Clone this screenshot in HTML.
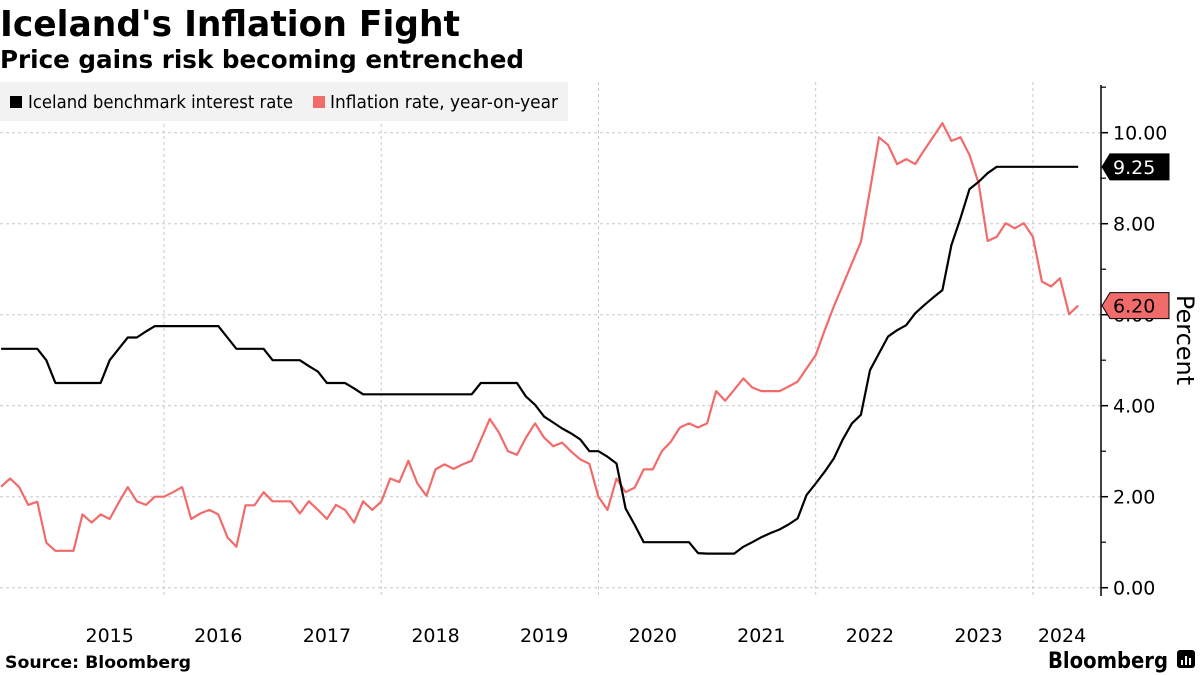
<!DOCTYPE html>
<html><head><meta charset="utf-8"><style>
html,body{margin:0;padding:0;background:#fff;}
svg{display:block;}
text{font-family:"DejaVu Sans","Liberation Sans",sans-serif;}
</style></head><body>
<svg id="chart" width="1200" height="675" viewBox="0 0 1200 675" xmlns="http://www.w3.org/2000/svg">
<text x="0" y="36" font-size="36" font-weight="bold" textLength="460" lengthAdjust="spacingAndGlyphs">Iceland's Inflation Fight</text>
<text x="0" y="68" font-size="25" font-weight="bold" textLength="524" lengthAdjust="spacingAndGlyphs">Price gains risk becoming entrenched</text>
<g id="grid"></g>
<g>
<rect x="0" y="82" width="568" height="39" fill="#f2f2f2"/>
<rect x="10" y="96" width="12" height="12" fill="#000"/>
<text x="28" y="108" font-size="18" textLength="265" lengthAdjust="spacingAndGlyphs">Iceland benchmark interest rate</text>
<rect x="313" y="96" width="12" height="12" fill="#f26b6b"/>
<text x="330" y="108" font-size="18" textLength="228" lengthAdjust="spacingAndGlyphs">Inflation rate, year-on-year</text>
</g>
<g id="axes"></g>
<g id="series"></g>
<g id="labels"></g>
<text transform="translate(1177,340) rotate(90)" font-size="24" text-anchor="middle">Percent</text>
<text x="5" y="668" font-size="17" font-weight="bold" textLength="186" lengthAdjust="spacingAndGlyphs">Source: Bloomberg</text>
<text x="1048" y="668" font-size="22" font-weight="bold" textLength="120" lengthAdjust="spacingAndGlyphs">Bloomberg</text>
<g>
<rect x="1177" y="650" width="18" height="18" rx="3" fill="#000"/>
<rect x="1181" y="660" width="2" height="5" fill="#fff"/><rect x="1185" y="656" width="2" height="9" fill="#fff"/><rect x="1189" y="658" width="2" height="7" fill="#fff"/>
</g>
</svg>
<script>
const rate=[5.25,5.25,5.25,5.25,5.25,5.0,4.5,4.5,4.5,4.5,4.5,4.5,5.0,5.25,5.5,5.5,5.63,5.75,5.75,5.75,5.75,5.75,5.75,5.75,5.75,5.5,5.25,5.25,5.25,5.25,5.0,5.0,5.0,5.0,4.87,4.75,4.5,4.5,4.5,4.38,4.25,4.25,4.25,4.25,4.25,4.25,4.25,4.25,4.25,4.25,4.25,4.25,4.25,4.5,4.5,4.5,4.5,4.5,4.2,4.02,3.76,3.63,3.5,3.39,3.26,3.0,3.0,2.88,2.73,1.74,1.38,1.0,1.0,1.0,1.0,1.0,1.0,0.76,0.75,0.75,0.75,0.75,0.9,1.0,1.11,1.2,1.28,1.39,1.52,2.04,2.29,2.55,2.84,3.26,3.61,3.8,4.78,5.15,5.52,5.66,5.77,6.03,6.21,6.38,6.54,7.53,8.12,8.76,8.92,9.11,9.25,9.25,9.25,9.25,9.25,9.25,9.25,9.25,9.25,9.25];
const inflation=[2.22,2.4,2.21,1.82,1.89,0.99,0.81,0.81,0.81,1.61,1.43,1.61,1.51,1.87,2.21,1.9,1.82,2.0,2.0,2.1,2.21,1.51,1.63,1.71,1.61,1.11,0.9,1.81,1.81,2.1,1.9,1.9,1.9,1.63,1.9,1.71,1.51,1.82,1.71,1.43,1.9,1.71,1.89,2.4,2.32,2.79,2.29,2.02,2.6,2.71,2.61,2.71,2.79,3.25,3.71,3.41,3.0,2.92,3.3,3.61,3.3,3.11,3.19,2.99,2.82,2.72,2.0,1.71,2.4,2.1,2.2,2.6,2.6,3.0,3.21,3.52,3.61,3.52,3.61,4.32,4.11,4.35,4.6,4.4,4.32,4.32,4.32,4.42,4.53,4.82,5.11,5.66,6.18,6.65,7.13,7.6,8.74,9.9,9.73,9.31,9.42,9.31,9.62,9.91,10.21,9.82,9.9,9.51,8.89,7.62,7.71,8.01,7.9,8.01,7.71,6.73,6.62,6.8,6.01,6.2];
const yearLabels=["2015","2016","2017","2018","2019","2020","2021","2022","2023","2024"];
const yTickLabels=["0.00","2.00","4.00","6.00","8.00","10.00"];
const startYear=2014, startMonth=6; // Jul 2014 (0-based month)
const NS="http://www.w3.org/2000/svg";
function mk(tag,attrs,parent){const e=document.createElementNS(NS,tag);for(const k in attrs)e.setAttribute(k,attrs[k]);parent.appendChild(e);return e;}
const xJan2016=164, perMonth=9.051;
function xIdx(i){return xJan2016+(i+startMonth-(2016-startYear)*12)*perMonth;}
function xYear(y){return xJan2016+(y-2016)*12*perMonth;}
function yv(v){return 587.7-v*45.5;}
const grid=document.getElementById('grid'),axes=document.getElementById('axes'),series=document.getElementById('series'),labels=document.getElementById('labels');
for(let v=0;v<=11;v++){
  const y=yv(v);
  if(v%2===0){
    const g=mk('line',{x1:0,x2:1101,y1:y,y2:y,stroke:'#c8c8c8','stroke-dasharray':'3,3','stroke-width':1},grid);
    
    
    const t=mk('line',{x1:1101,x2:1108,y1:y,y2:y,stroke:'#000','stroke-width':1.5},axes);
    
    
    const lb=mk('text',{x:1113,y:y+7,'font-size':19},axes);
    lb.textContent=yTickLabels[v/2];
    
    
  } else {
    const t=mk('line',{x1:1101,x2:1106,y1:y,y2:y,stroke:'#000','stroke-width':1.2},axes);
    
    
  }
}
for(let y=2016;y<=2024;y+=2){
  const x=xYear(y);
  const g=mk('line',{x1:x,x2:x,y1:82,y2:596,stroke:'#c8c8c8','stroke-dasharray':'3,3','stroke-width':1},grid);
  
  
}
const ax=mk('line',{x1:1101,x2:1101,y1:85,y2:596,stroke:'#000','stroke-width':1.5},axes);


yearLabels.forEach((l,i)=>{
  const yr=+l; let x=xYear(yr)+6*perMonth;
  if(yr===2024) x=1062;
  const t=mk('text',{x:x,y:642,'font-size':19,'text-anchor':'middle'},axes);
  t.textContent=l;
  
  
});
function path(arr){return arr.map((v,i)=>(i?'L':'M')+xIdx(i).toFixed(1)+','+yv(v).toFixed(1)).join('');}
const pi=mk('path',{d:path(inflation),fill:'none',stroke:'#f26b6b','stroke-width':2.2,'stroke-linejoin':'round'},series);


const pr=mk('path',{d:path(rate),fill:'none',stroke:'#000','stroke-width':2.2,'stroke-linejoin':'round'},series);


function endLabel(val,fill,stroke,txtColor,name){
  const y=yv(val);
  const g=mk('g',{},labels);
  
  
  mk('path',{d:`M1102,${y} L1110,${y-13} L1169,${y-13} L1169,${y+13} L1110,${y+13} Z`,fill:fill,stroke:stroke,'stroke-width':1},g);
  const t=mk('text',{x:1113,y:y+7,'font-size':19,fill:txtColor},g);
  t.textContent=val.toFixed(2);
}
endLabel(rate[rate.length-1],'#000','#000','#fff','rate-end-label');
endLabel(inflation[inflation.length-1],'#f26b6b','#000','#000','inflation-end-label');
</script>
</body></html>
